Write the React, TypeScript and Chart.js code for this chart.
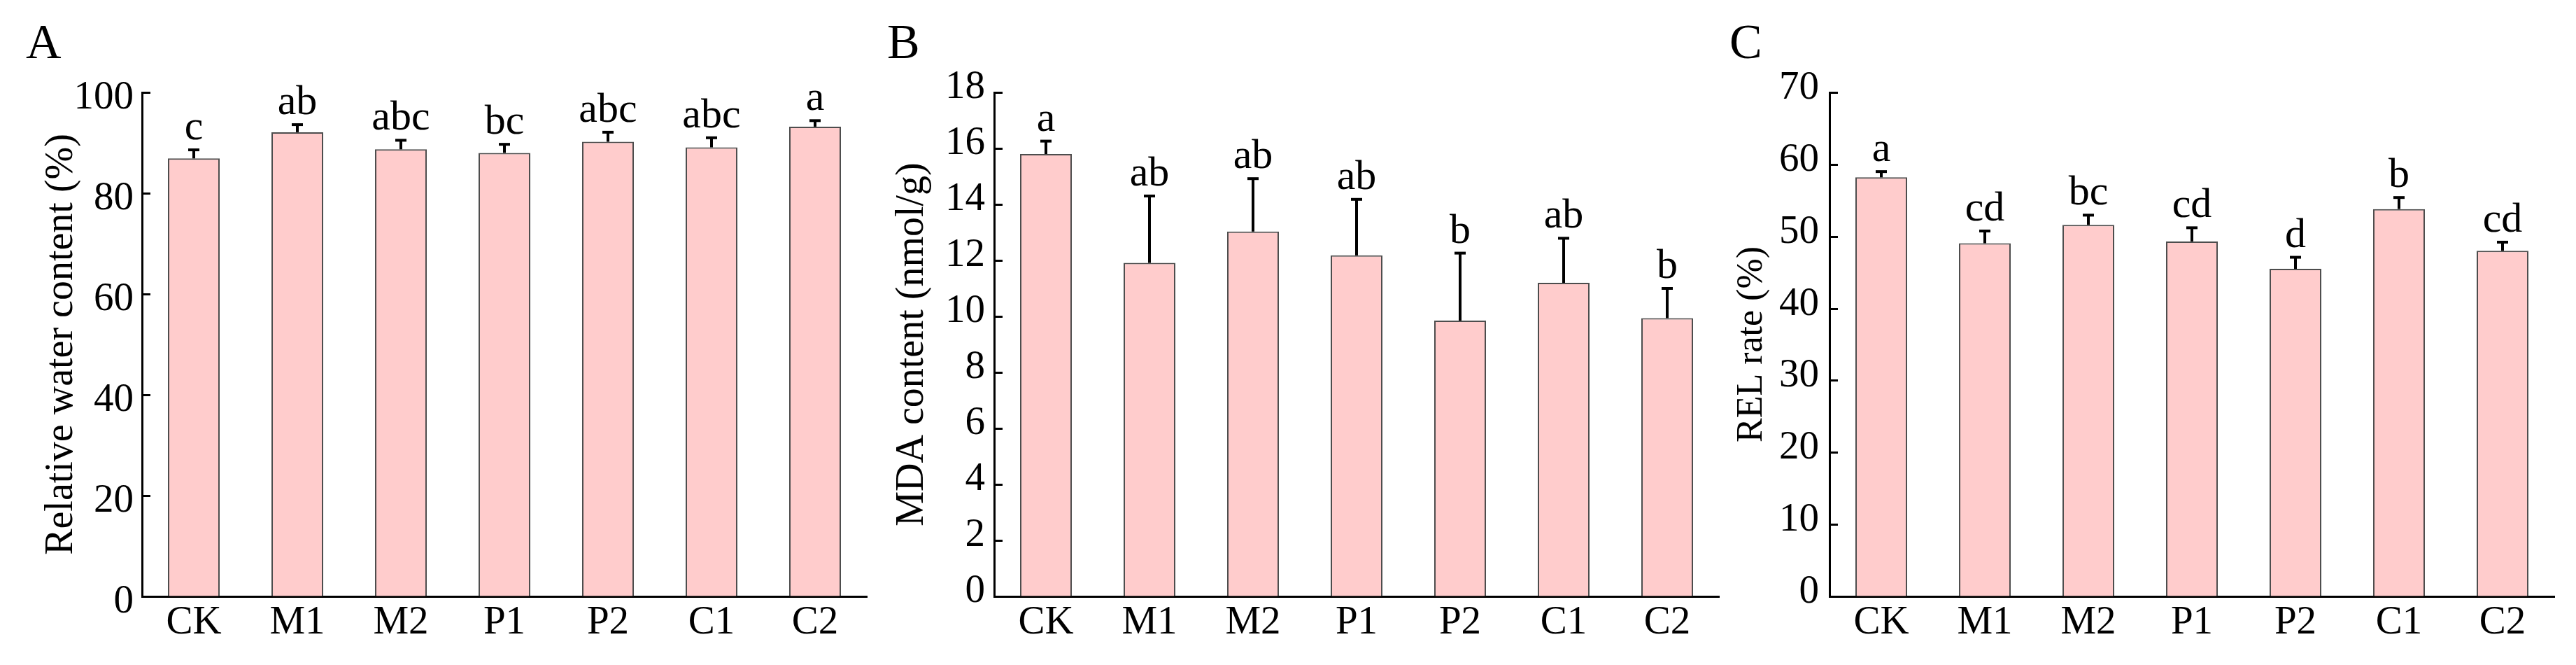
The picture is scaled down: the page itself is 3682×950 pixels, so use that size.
import React, { useEffect, useRef } from 'react';
import { Chart, registerables } from 'chart.js';

Chart.register(...registerables);

// ---------- data ----------
const categories = ['CK', 'M1', 'M2', 'P1', 'P2', 'C1', 'C2'];

const waterValues = [86.9, 92.1, 88.7, 88.0, 90.2, 89.1, 93.2];
const waterErrors = [1.7, 1.5, 1.8, 1.7, 1.9, 1.9, 1.2];
const waterLetters = ['c', 'ab', 'abc', 'bc', 'abc', 'abc', 'a'];

const mdaValues = [15.8, 11.91, 13.03, 12.18, 9.85, 11.2, 9.94];
const mdaErrors = [0.46, 2.39, 1.89, 2.0, 2.41, 1.59, 1.06];
const mdaLetters = ['a', 'ab', 'ab', 'ab', 'b', 'ab', 'b'];

const relValues = [58.2, 49.05, 51.6, 49.3, 45.5, 53.8, 48.0];
const relErrors = [0.8, 1.7, 1.35, 1.9, 1.6, 1.6, 1.2];
const relLetters = ['a', 'cd', 'bc', 'cd', 'd', 'b', 'cd'];

const panelLetters = ['A', 'B', 'C'];
const yTitles = ['Relative water content (%)', 'MDA content (nmol/g)', 'REL rate (%)'];
const yMax = [100, 18, 70];
const yStep = [20, 2, 10];

// ---------- layout / style ----------
const FONT = '"Liberation Serif", "Times New Roman", serif';
const H = 950;
const PLOT_TOP = 132;
const X_AXIS_H = 98;

const layouts = [
  { x: 0, w: 1250, axisLeft: 203, padRight: 11, tickPad: 12, labelOffset: 8, titleSize: 56, titlePad: 60, letterX: 37 },
  { x: 1250, w: 1220, axisLeft: 171, padRight: 13, tickPad: 13, labelOffset: -7, titleSize: 56, titlePad: 26, letterX: 18 },
  { x: 2470, w: 1212, axisLeft: 145, padRight: 31, tickPad: 15, labelOffset: -6, titleSize: 52, titlePad: 8, letterX: 2 },
];

const seriesValues = [waterValues, mdaValues, relValues];
const seriesErrors = [waterErrors, mdaErrors, relErrors];
const seriesLetters = [waterLetters, mdaLetters, relLetters];

const annotPlugin = {
  id: 'annot',
  afterDatasetsDraw(chart: any, _args: any, opts: any) {
    const ctx = chart.ctx;
    const yScale = chart.scales.y;
    const area = chart.chartArea;
    const meta = chart.getDatasetMeta(0);
    ctx.save();
    // inward y ticks
    ctx.strokeStyle = '#000';
    ctx.lineWidth = 3;
    yScale.ticks.forEach((t: any) => {
      if (t.value === 0) return;
      const py = Math.round(yScale.getPixelForValue(t.value)) + 0.5;
      ctx.beginPath();
      ctx.moveTo(area.left, py);
      ctx.lineTo(area.left + 12, py);
      ctx.stroke();
    });
    // error bars + letters
    meta.data.forEach((bar: any, i: number) => {
      const x = bar.x;
      const yTop = yScale.getPixelForValue(opts.values[i]);
      const yCap = yScale.getPixelForValue(opts.values[i] + opts.errors[i]);
      ctx.strokeStyle = '#000';
      ctx.lineWidth = 4;
      ctx.beginPath();
      ctx.moveTo(x, yTop);
      ctx.lineTo(x, yCap);
      ctx.stroke();
      ctx.beginPath();
      ctx.moveTo(x - 8, yCap);
      ctx.lineTo(x + 8, yCap);
      ctx.stroke();
      ctx.fillStyle = '#000';
      ctx.font = `60px ${FONT}`;
      ctx.textAlign = 'center';
      ctx.textBaseline = 'alphabetic';
      ctx.fillText(opts.letters[i], x, yCap - 15);
    });
    // panel letter
    ctx.font = `70px ${FONT}`;
    ctx.textAlign = 'left';
    ctx.textBaseline = 'alphabetic';
    ctx.fillStyle = '#000';
    ctx.fillText(opts.panel, opts.letterX, 83);
    ctx.restore();
  },
};

function Panel({ idx }: { idx: number }) {
  const ref = useRef<HTMLCanvasElement | null>(null);
  const L = layouts[idx];
  useEffect(() => {
    if (!ref.current) return;
    const chart = new Chart(ref.current, {
      type: 'bar',
      data: {
        labels: categories,
        datasets: [
          {
            data: seriesValues[idx],
            backgroundColor: '#FFCCCC',
            borderColor: '#4d4d4d',
            borderWidth: 2,
            barPercentage: 0.5,
            categoryPercentage: 1,
          },
        ],
      },
      options: {
        responsive: false,
        animation: false,
        devicePixelRatio: 1,
        layout: { padding: { left: 0, right: L.padRight, top: PLOT_TOP, bottom: 0 } },
        plugins: {
          legend: { display: false },
          tooltip: { enabled: false },
          annot: {
            values: seriesValues[idx],
            errors: seriesErrors[idx],
            letters: seriesLetters[idx],
            panel: panelLetters[idx],
            letterX: L.letterX,
          },
        } as any,
        scales: {
          x: {
            grid: { display: true, drawOnChartArea: false, drawTicks: false },
            border: { display: true, color: '#000', width: 3 },
            ticks: { font: { family: FONT, size: 57 }, color: '#000', padding: 4, maxRotation: 0 },
            afterFit: (s: any) => {
              s.height = X_AXIS_H;
            },
          },
          y: {
            min: 0,
            max: yMax[idx],
            grid: { display: true, drawOnChartArea: false, drawTicks: false },
            border: { display: true, color: '#000', width: 3 },
            ticks: {
              stepSize: yStep[idx],
              font: { family: FONT, size: 57 },
              color: '#000',
              padding: L.tickPad,
              labelOffset: L.labelOffset,
            },
            title: {
              display: true,
              text: yTitles[idx],
              color: '#000',
              font: { family: FONT, size: L.titleSize, lineHeight: 1 },
              padding: { top: L.titlePad, bottom: 0 },
            },
            afterFit: (s: any) => {
              s.width = L.axisLeft;
            },
          },
        },
      },
      plugins: [annotPlugin],
    });
    return () => chart.destroy();
  }, [idx]);
  return (
    <div style={{ position: 'absolute', left: L.x, top: 0, width: L.w, height: H }}>
      <canvas ref={ref} width={L.w} height={H} style={{ width: L.w, height: H, display: 'block' }} />
    </div>
  );
}

export default function App() {
  return (
    <div style={{ position: 'absolute', left: 0, top: 0, width: 3682, height: H, background: '#fff' }}>
      <Panel idx={0} />
      <Panel idx={1} />
      <Panel idx={2} />
    </div>
  );
}
